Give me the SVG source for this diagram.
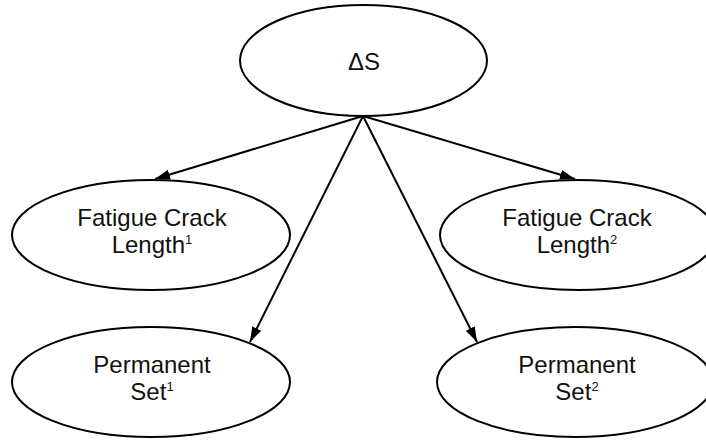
<svg xmlns="http://www.w3.org/2000/svg" width="706" height="440" viewBox="0 0 706 440">
  <style>
    .node ellipse { fill: #ffffff; stroke: #000000; stroke-width: 2; }
    .node text { font-family: "Liberation Sans", Arial, Helvetica, sans-serif; font-size: 24px; fill: #111111; text-anchor: middle; }
    .node .sup { font-size: 13px; }
    .edges line { stroke: #000000; stroke-width: 2; fill: none; }
  </style>
  <defs>
    <marker id="arrow" markerUnits="userSpaceOnUse" markerWidth="16" markerHeight="11" viewBox="0 0 16 11" refX="15" refY="5.5" orient="auto">
      <path d="M0,0.5 L15,5.5 L0,10.5 z" fill="#000000"/>
    </marker>
  </defs>
  <rect width="706" height="440" fill="#ffffff"/>

  <!-- connectors from the ΔS node -->
  <g id="edges" class="edges">
    <line x1="363" y1="116" x2="155" y2="179" marker-end="url(#arrow)"/>
    <line x1="363" y1="116" x2="575" y2="179" marker-end="url(#arrow)"/>
    <line x1="363" y1="116" x2="250" y2="342" marker-end="url(#arrow)"/>
    <line x1="363" y1="116" x2="477" y2="342" marker-end="url(#arrow)"/>
  </g>

  <g id="delta-s" class="node">
    <ellipse cx="363.5" cy="60.5" rx="123.5" ry="55.5"/>
    <text x="364" y="70">ΔS</text>
  </g>

  <g id="fatigue-crack-length-1" class="node">
    <ellipse cx="151" cy="235" rx="139" ry="55"/>
    <text x="152" y="226">Fatigue Crack<tspan x="152" dy="27">Length</tspan><tspan class="sup" dy="-9">1</tspan></text>
  </g>

  <g id="fatigue-crack-length-2" class="node">
    <ellipse cx="578" cy="235" rx="138" ry="55"/>
    <text x="577" y="226">Fatigue Crack<tspan x="577" dy="27">Length</tspan><tspan class="sup" dy="-9">2</tspan></text>
  </g>

  <g id="permanent-set-1" class="node">
    <ellipse cx="151" cy="382" rx="139" ry="55"/>
    <text x="152" y="373">Permanent<tspan x="152" dy="27">Set</tspan><tspan class="sup" dy="-9">1</tspan></text>
  </g>

  <g id="permanent-set-2" class="node">
    <ellipse cx="575" cy="382" rx="138" ry="55"/>
    <text x="577" y="373">Permanent<tspan x="577" dy="27">Set</tspan><tspan class="sup" dy="-9">2</tspan></text>
  </g>
</svg>
